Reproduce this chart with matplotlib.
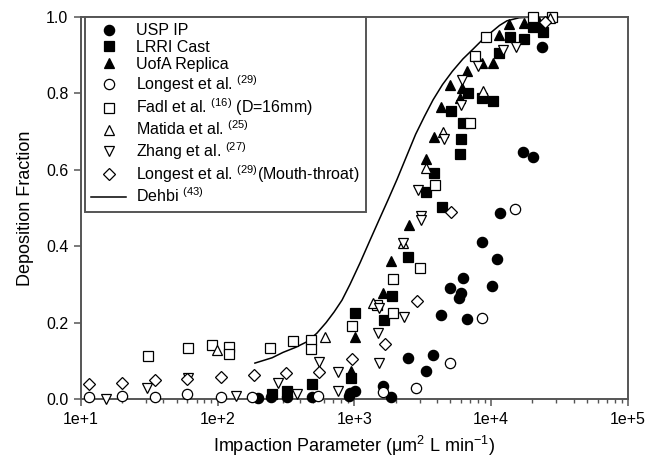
import matplotlib
matplotlib.use("Agg")
import matplotlib.pyplot as plt
from matplotlib.ticker import FixedLocator, FixedFormatter, LogLocator, NullFormatter

plt.rcParams['font.family'] = ['Liberation Sans', 'DejaVu Sans']
plt.rcParams['mathtext.fontset'] = 'custom'
plt.rcParams['mathtext.rm'] = 'Liberation Sans'
plt.rcParams['mathtext.it'] = 'Liberation Sans:italic'

# ---- data ----
usp_x = [198, 245, 321, 489, 912, 927, 1009, 1616, 1849, 2461, 3335, 3753, 4298, 6653,
         4989, 6010, 5808, 6209, 10140, 8551, 11020, 11590, 17070, 20180, 23480]
usp_y = [0.003, 0.005, 0.005, 0.005, 0.008, 0.016, 0.021, 0.034, 0.005, 0.107, 0.073, 0.115,
         0.220, 0.209, 0.291, 0.277, 0.264, 0.317, 0.296, 0.411, 0.366, 0.487, 0.647, 0.634, 0.921]

lrri_x = [249, 321, 489, 942, 1009, 1644, 1880, 2461, 3335, 4365, 3814, 5902, 6010, 6209,
          5076, 6761, 8551, 10310, 11400, 13710, 17340, 20180, 23880]
lrri_y = [0.013, 0.021, 0.039, 0.055, 0.225, 0.207, 0.270, 0.372, 0.542, 0.503, 0.592, 0.641,
          0.681, 0.723, 0.754, 0.801, 0.788, 0.780, 0.906, 0.948, 0.942, 0.974, 0.961]

uofa_x = [942, 1009, 1616, 1849, 2502, 3335, 3814, 4298, 4989, 5902, 6109, 6653, 8551,
          10310, 11400, 13490, 17340, 22500]
uofa_y = [0.073, 0.162, 0.277, 0.361, 0.455, 0.628, 0.686, 0.764, 0.822, 0.788, 0.814, 0.859,
          0.880, 0.880, 0.953, 0.982, 0.984, 0.987]

longest_x = [11.4, 20, 34.8, 59.6, 105.6, 178, 541, 1616, 2816, 4989, 8551, 14930]
longest_y = [0.005, 0.008, 0.005, 0.013, 0.005, 0.005, 0.008, 0.018, 0.029, 0.094, 0.212, 0.497]

fadl_x = [30.9, 60.5, 90.8, 120.9, 120.9, 241, 355, 481, 481, 959, 1914, 1914, 1462, 3013,
          3880, 6998, 7603, 9162, 20180, 27800]
fadl_y = [0.113, 0.134, 0.141, 0.136, 0.118, 0.134, 0.152, 0.154, 0.131, 0.191, 0.225, 0.314,
          0.246, 0.343, 0.560, 0.723, 0.898, 0.948, 1.0, 1.0]

matida_x = [98.9, 608, 1365, 2265, 3335, 4436, 8710, 26800]
matida_y = [0.128, 0.162, 0.251, 0.408, 0.605, 0.699, 0.806, 0.997]

zhang_x = [15.2, 30.4, 60.5, 135.9, 276, 380, 550, 757, 757, 1511, 1511, 1488, 2302, 2265,
           3064, 3064, 2913, 4510, 6010, 6109, 7998, 12190, 15170]
zhang_y = [0.0, 0.029, 0.055, 0.008, 0.042, 0.013, 0.097, 0.071, 0.021, 0.094, 0.238, 0.173,
           0.215, 0.408, 0.479, 0.469, 0.547, 0.681, 0.770, 0.835, 0.872, 0.914, 0.921]

mouth_x = [11.4, 20, 34.8, 59.6, 105.6, 184, 316, 550, 959, 1671, 2865, 5076, 24600]
mouth_y = [0.039, 0.042, 0.050, 0.052, 0.058, 0.063, 0.068, 0.071, 0.105, 0.144, 0.257, 0.490, 0.987]

dehbi_x = [187, 250, 300, 370, 450, 530, 620, 710, 811, 927, 1100, 1300, 1500, 1758, 2047,
           2400, 2800, 3250, 3753, 4400, 5200, 6200, 7362, 8600, 10000, 11500, 13030, 16000, 20000]
dehbi_y = [0.094, 0.108, 0.122, 0.135, 0.150, 0.172, 0.200, 0.228, 0.259, 0.300, 0.357, 0.416,
           0.466, 0.521, 0.575, 0.635, 0.693, 0.740, 0.783, 0.823, 0.858, 0.890, 0.916, 0.940,
           0.960, 0.978, 0.990, 0.998, 1.0]

x_ticks = [1e1, 1e2, 1e3, 1e4, 1e5]
x_ticklabels = ['1e+1', '1e+2', '1e+3', '1e+4', '1e+5']
y_ticks = [0.0, 0.2, 0.4, 0.6, 0.8, 1.0]
y_ticklabels = ['0.0', '0.2', '0.4', '0.6', '0.8', '1.0']

# ---- figure ----
fig = plt.figure(figsize=(6.6, 4.57), dpi=100)
ax = fig.add_axes([0.1227, 0.1269, 0.8288, 0.8359])

ms = 7.4
ec = 'black'
common = dict(linestyle='none', clip_on=False, markeredgewidth=0.9, zorder=3)
ax.plot(usp_x, usp_y, marker='o', color='black', markersize=ms, label='USP IP', **common)
ax.plot(lrri_x, lrri_y, marker='s', color='black', markersize=ms - 0.6, label='LRRI Cast', **common)
ax.plot(uofa_x, uofa_y, marker='^', color='black', markersize=ms, label='UofA Replica', **common)
ax.plot(longest_x, longest_y, marker='o', markerfacecolor='white', markeredgecolor=ec,
        markersize=ms, label=r'Longest et al. $^{(29)}$', **common)
ax.plot(fadl_x, fadl_y, marker='s', markerfacecolor='white', markeredgecolor=ec,
        markersize=ms - 0.6, label=r'Fadl et al. $^{(16)}$ (D=16mm)', **common)
ax.plot(matida_x, matida_y, marker='^', markerfacecolor='white', markeredgecolor=ec,
        markersize=ms, label=r'Matida et al. $^{(25)}$', **common)
ax.plot(zhang_x, zhang_y, marker='v', markerfacecolor='white', markeredgecolor=ec,
        markersize=ms, label=r'Zhang et al. $^{(27)}$', **common)
ax.plot(mouth_x, mouth_y, marker='D', markerfacecolor='white', markeredgecolor=ec,
        markersize=ms - 1.0, label=r'Longest et al. $^{(29)}$(Mouth-throat)', **common)
ax.plot(dehbi_x, dehbi_y, color='black', linewidth=1.1, label=r'Dehbi $^{(43)}$', zorder=2)

ax.set_xscale('log')
ax.set_xlim(1e1, 1e5)
ax.set_ylim(0.0, 1.0)

ax.xaxis.set_major_locator(FixedLocator(x_ticks))
ax.xaxis.set_major_formatter(FixedFormatter(x_ticklabels))
ax.xaxis.set_minor_locator(LogLocator(base=10, subs=range(2, 10)))
ax.xaxis.set_minor_formatter(NullFormatter())
ax.yaxis.set_major_locator(FixedLocator(y_ticks))
ax.yaxis.set_major_formatter(FixedFormatter(y_ticklabels))

spine_col = '#555555'
for s in ax.spines.values():
    s.set_color(spine_col)
    s.set_linewidth(1.4)
ax.tick_params(axis='both', which='major', direction='out', length=5, width=1.1,
               color=spine_col, labelsize=11.5, pad=4)
ax.tick_params(axis='x', which='minor', direction='out', length=3, width=1.0, color=spine_col)

ax.set_xlabel(r'Impaction Parameter ($\mathrm{\mu}$m$^2$ L min$^{-1}$)', fontsize=13, labelpad=5)
ax.set_ylabel('Deposition Fraction', fontsize=13, labelpad=9)

leg = ax.legend(loc='upper left', bbox_to_anchor=(0.007, 1.0), borderaxespad=0,
                fancybox=False, edgecolor=spine_col, framealpha=1, fontsize=11.5,
                labelspacing=0.1, handlelength=2.2, handletextpad=0.6, borderpad=0.4,
                numpoints=1)
leg.get_frame().set_linewidth(1.4)

fig.savefig('out.png', dpi=100)
